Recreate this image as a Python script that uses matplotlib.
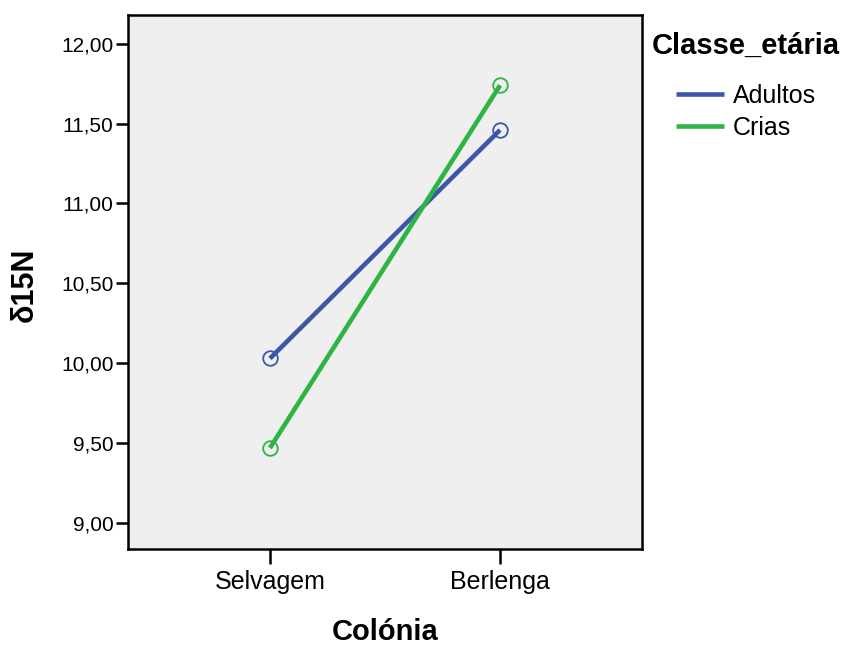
import matplotlib
matplotlib.use("Agg")
import matplotlib.pyplot as plt
from matplotlib.ticker import FuncFormatter

plt.rcParams['font.family'] = ['Liberation Sans', 'DejaVu Sans']

colonias = ["Selvagem", "Berlenga"]
adultos = [10.03, 11.46]
crias = [9.47, 11.74]
series = {"Adultos": (adultos, "#3c56a8"), "Crias": (crias, "#2db543")}

fig = plt.figure(figsize=(8.46, 6.46), dpi=100)
ax = fig.add_axes([0.1513, 0.1502, 0.6076, 0.8266])
ax.set_facecolor("#efefef")

x = list(range(len(colonias)))
for name, (vals, col) in series.items():
    ax.plot(x, vals, color=col, lw=3.3, label=name, solid_capstyle="butt")
    ax.plot(x, vals, ls="none", marker="o", ms=10.5, mfc="none", mec=col, mew=1.3)

ax.set_xlim(-0.617, 1.617)
ax.set_ylim(8.8375, 12.18)
ax.set_xticks(x)
ax.set_xticklabels(colonias)
ax.set_yticks([9.0, 9.5, 10.0, 10.5, 11.0, 11.5, 12.0])
ax.yaxis.set_major_formatter(FuncFormatter(lambda v, p: f"{v:.2f}".replace(".", ",")))
ax.tick_params(axis="y", labelsize=15, length=9, width=1.8, pad=1.5)
ax.tick_params(axis="x", labelsize=18, length=11, width=1.8, pad=4)
for s in ax.spines.values():
    s.set_linewidth(1.8)

ax.set_xlabel("Colónia", fontsize=21, fontweight="bold")
ax.xaxis.label.set_va("center")
ax.xaxis.set_label_coords(0.5, -0.155)
ax.set_ylabel("δ15N", fontsize=22, fontweight="bold")
ax.yaxis.label.set_va("center")
ax.yaxis.set_label_coords(-0.2004, 0.494)

fig.text(652 / 846, 1 - 46 / 646, "Classe_etária", fontsize=21, fontweight="bold",
         ha="left", va="center")
fig.legend(loc="upper left", bbox_to_anchor=(676 / 846, 1 - 84 / 646), frameon=False,
           fontsize=18, handlelength=1.9, handletextpad=0.36, labelspacing=0.32,
           borderpad=0, borderaxespad=0)

fig.savefig("out.png", dpi=100)
